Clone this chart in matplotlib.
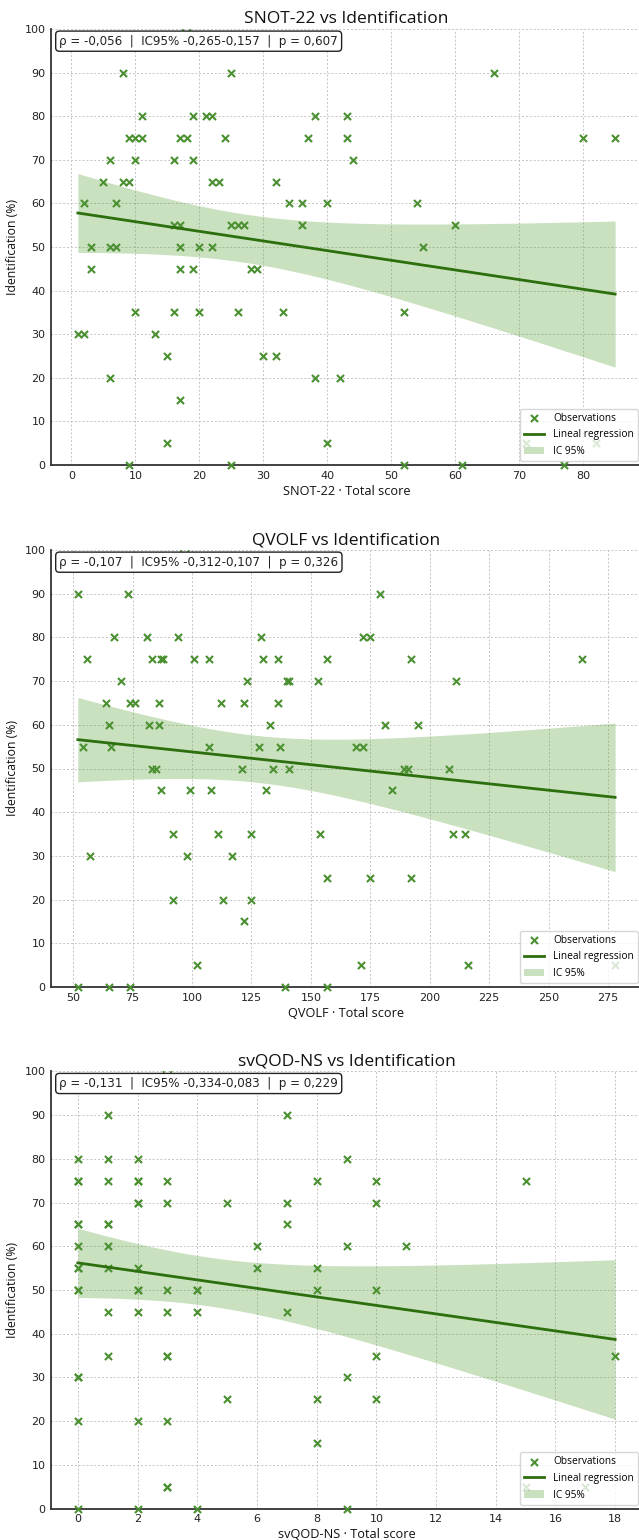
import numpy as np
import matplotlib
matplotlib.use("Agg")
import matplotlib.pyplot as plt

# ---- datos ----
snot_x = [8, 25, 66,
          11, 19, 21, 22, 38, 43,
          9, 10, 11, 17, 18, 24, 37, 43, 80, 85,
          6, 10, 16, 19, 44,
          5, 8, 9, 22, 23, 32,
          2, 7, 34, 36, 40, 54,
          16, 17, 25, 26, 27, 36, 60,
          3, 6, 7, 17, 20, 22, 55,
          3, 17, 19, 28, 29,
          10, 16, 20, 26, 33, 52,
          1, 2, 13,
          15, 30, 32,
          6, 38, 42,
          17,
          15, 40, 71, 82,
          9, 25, 52, 61, 77]
snot_y = [90] * 3 + [80] * 6 + [75] * 10 + [70] * 5 + [65] * 6 + [60] * 6 + \
         [55] * 7 + [50] * 7 + [45] * 5 + [35] * 6 + [30] * 3 + [25] * 3 + \
         [20] * 3 + [15] * 1 + [5] * 4 + [0] * 5

qvolf_x = [52, 73, 179,
           67, 81, 94, 129, 172, 175,
           56, 83, 87, 88, 101, 107, 130, 136, 157, 192, 264,
           70, 123, 140, 141, 153, 211,
           64, 74, 76, 86, 112, 122, 136,
           65, 82, 86, 133, 181, 195,
           54, 66, 107, 128, 137, 169, 172,
           83, 85, 121, 134, 141, 189, 191, 208,
           87, 99, 108, 131, 184,
           92, 111, 125, 154, 210, 215,
           57, 98, 117,
           157, 175, 192,
           92, 113, 125,
           122,
           102, 171, 216, 278,
           52, 65, 74, 139, 157]
qvolf_y = [90] * 3 + [80] * 6 + [75] * 11 + [70] * 6 + [65] * 7 + [60] * 6 + \
          [55] * 7 + [50] * 8 + [45] * 5 + [35] * 6 + [30] * 3 + [25] * 3 + \
          [20] * 3 + [15] * 1 + [5] * 4 + [0] * 5

svqod_x = [1, 7,
           0, 1, 2, 9,
           0, 0, 1, 2, 2, 3, 8, 10, 15,
           2, 2, 3, 5, 7, 10,
           0, 0, 1, 1, 7,
           0, 1, 6, 9, 11,
           0, 0, 1, 2, 6, 8,
           0, 0, 2, 2, 3, 4, 4, 8, 10,
           1, 2, 3, 4, 7,
           1, 3, 3, 10, 18,
           0, 0, 9,
           5, 8, 10,
           0, 2, 3,
           8,
           3, 3, 15, 17,
           0, 2, 4, 9]
svqod_y = [90] * 2 + [80] * 4 + [75] * 9 + [70] * 6 + [65] * 5 + [60] * 5 + \
          [55] * 6 + [50] * 9 + [45] * 5 + [35] * 5 + [30] * 3 + [25] * 3 + \
          [20] * 3 + [15] * 1 + [5] * 4 + [0] * 4

# puntos en y=100 (marcador circular, tapado por la caja)
top_x = [18, 97, 3]

# recta de regresion leida: valor en x minimo y en x maximo
fit_start = [57.8, 56.6, 56.2]
fit_end = [39.2, 43.4, 38.7]

titles = ["SNOT-22 vs Identification", "QVOLF vs Identification",
          "svQOD-NS vs Identification"]
xlabels = ["SNOT-22 · Total score", "QVOLF · Total score",
           "svQOD-NS · Total score"]
stats = ["ρ = -0,056  |  IC95% -0,265-0,157  |  p = 0,607",
         "ρ = -0,107  |  IC95% -0,312-0,107  |  p = 0,326",
         "ρ = -0,131  |  IC95% -0,334-0,083  |  p = 0,229"]
xticks = [list(range(0, 90, 10)), list(range(50, 276, 25)),
          list(range(0, 19, 2))]
yticks = list(range(0, 101, 10))

c_obs = "#4a9030"
c_line = "#2d6e0e"
c_band = "#5da43e"
sans2 = ['Open Sans', 'DejaVu Sans']

plt.rcParams['font.family'] = ['DejaVu Sans']

fig = plt.figure(figsize=(6.39, 15.4), dpi=100)
H = 1540.0
W = 639.0
tops = [29, 550, 1071.3]
bots = [465, 987, 1508.7]

datasets = [(snot_x, snot_y), (qvolf_x, qvolf_y), (svqod_x, svqod_y)]

for i, (xs, ys) in enumerate(datasets):
    x = np.array(xs, dtype=float)
    y = np.array(ys, dtype=float)
    ax = fig.add_axes([51 / W, 1 - bots[i] / H, 591 / W, (bots[i] - tops[i]) / H])

    # recta + IC 95% (ancho de banda segun los datos)
    n = len(x)
    x0, x1 = x.min(), x.max()
    xg = np.linspace(x0, x1, 100)
    yg = fit_start[i] + (fit_end[i] - fit_start[i]) * (xg - x0) / (x1 - x0)
    b1, b0 = np.polyfit(x, y, 1)
    resid = y - (b0 + b1 * x)
    s = np.sqrt(np.sum(resid ** 2) / (n - 2))
    sxx = np.sum((x - x.mean()) ** 2)
    se = s * np.sqrt(1 / n + (xg - x.mean()) ** 2 / sxx)
    tval = 1.99

    ax.fill_between(xg, yg - tval * se, yg + tval * se, color=c_band,
                    alpha=0.33, lw=0, label="IC 95%", zorder=2)
    ax.scatter(x, y, marker='x', s=26, color=c_obs, linewidths=1.5,
               label="Observations", zorder=3, clip_on=False)
    ax.scatter([top_x[i]], [100], marker='o', s=30, facecolors='none',
               edgecolors=c_obs, linewidths=1.2, zorder=3)
    ax.plot(xg, yg, color=c_line, lw=2, label="Lineal regression", zorder=4)

    pad = (x1 - x0) * 0.05
    ax.set_xlim(x0 - pad, x1 + pad)
    ax.set_ylim(0, 100)
    ax.set_xticks(xticks[i])
    ax.set_yticks(yticks)
    ax.tick_params(length=0, labelsize=8, pad=4, colors='#222222')
    ax.grid(True, ls=(0, (2, 2)), lw=0.7, color='#c4c4c4')
    ax.set_axisbelow(True)
    for sp in ['top', 'right']:
        ax.spines[sp].set_visible(False)
    for sp in ['left', 'bottom']:
        ax.spines[sp].set_color('#333333')
        ax.spines[sp].set_linewidth(1.3)

    ax.set_title(titles[i], family=sans2, fontsize=12.5, pad=4, color='#111111')
    ax.set_xlabel(xlabels[i], family=sans2, fontsize=9.2, labelpad=3, color='#111111')
    ax.set_ylabel("Identification (%)", family=sans2, fontsize=8.8,
                  labelpad=4, color='#111111')

    ax.text(0.014, 0.987, stats[i], transform=ax.transAxes, ha='left', va='top',
            fontsize=8.6, color='#222222', zorder=6,
            bbox=dict(boxstyle='round,pad=0.3', fc='white', ec='#222222', lw=1.0))

    handles, labels = ax.get_legend_handles_labels()
    order = [labels.index(l) for l in ["Observations", "Lineal regression", "IC 95%"]]
    leg = ax.legend([handles[k] for k in order], [labels[k] for k in order],
                    loc='lower right', framealpha=0.8, edgecolor='#cccccc',
                    borderaxespad=0.4, labelspacing=0.55, handlelength=2.0,
                    handletextpad=0.9,
                    prop={'family': sans2, 'size': 7.3})
    leg.set_zorder(7)

fig.savefig("out.png", dpi=100)
